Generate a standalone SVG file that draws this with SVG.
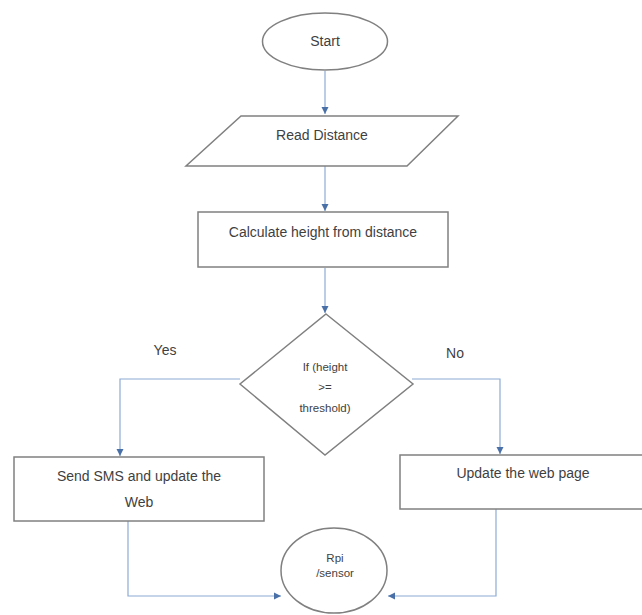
<svg xmlns="http://www.w3.org/2000/svg" width="642" height="615" viewBox="0 0 642 615">
<defs>
<style>
.shape{fill:#ffffff;stroke:#808080;stroke-width:1.5}
.conn{fill:none;stroke:#8eaad6;stroke-width:1.2}
.t{font-family:"Liberation Sans",Arial,sans-serif;fill:#3f3f3f;text-anchor:middle}
.m{font-size:14px}
.s{font-size:11.5px}
</style>
<marker id="arr" markerWidth="8" markerHeight="8" refX="7" refY="4" orient="auto" markerUnits="userSpaceOnUse">
<path d="M0,0.5 L7,4 L0,7.5 Z" fill="#4a70a8"/>
</marker>
</defs>
<rect width="642" height="615" fill="#ffffff"/>
<g id="connectors">
<path class="conn" d="M325,71 L325,114" marker-end="url(#arr)"/>
<path class="conn" d="M325,166 L325,211" marker-end="url(#arr)"/>
<path class="conn" d="M325,268 L325,313" marker-end="url(#arr)"/>
<path class="conn" d="M240,379 L120,379 L120,456" marker-end="url(#arr)"/>
<path class="conn" d="M412,379 L500,379 L500,454" marker-end="url(#arr)"/>
<path class="conn" d="M128,510 L128,596 L281,596" marker-end="url(#arr)"/>
<path class="conn" d="M496,509 L496,596 L388,596" marker-end="url(#arr)"/>
</g>
<g id="start">
<ellipse class="shape" cx="325" cy="41.5" rx="62.5" ry="28.5"/>
<text class="t m" x="325" y="46">Start</text>
</g>
<g id="read">
<polygon class="shape" points="241,116 458,116 407,166 186,166"/>
<text class="t m" x="322" y="140">Read Distance</text>
</g>
<g id="calc">
<rect class="shape" x="198" y="212" width="250" height="55"/>
<text class="t m" x="323" y="237">Calculate height from distance</text>
</g>
<g id="decision">
<polygon class="shape" points="326,314 413,384 325,455 240,384"/>
<text class="t s" x="325" y="371">If (height</text>
<text class="t s" x="325" y="391">&gt;=</text>
<text class="t s" x="325" y="412">threshold)</text>
</g>
<g id="yes-label"><text class="t m" x="165" y="355">Yes</text></g>
<g id="no-label"><text class="t m" x="455" y="358">No</text></g>
<g id="send">
<rect class="shape" x="14" y="457" width="250" height="64"/>
<text class="t m" x="139" y="481">Send SMS and update the</text>
<text class="t m" x="139" y="507">Web</text>
</g>
<g id="update">
<rect class="shape" x="400" y="455" width="246" height="54"/>
<text class="t m" x="523" y="478">Update the web page</text>
</g>
<g id="rpi">
<ellipse class="shape" cx="334" cy="570.5" rx="53" ry="42.5"/>
<text class="t s" x="335" y="562">Rpi</text>
<text class="t s" x="335" y="577">/sensor</text>
</g>
</svg>
